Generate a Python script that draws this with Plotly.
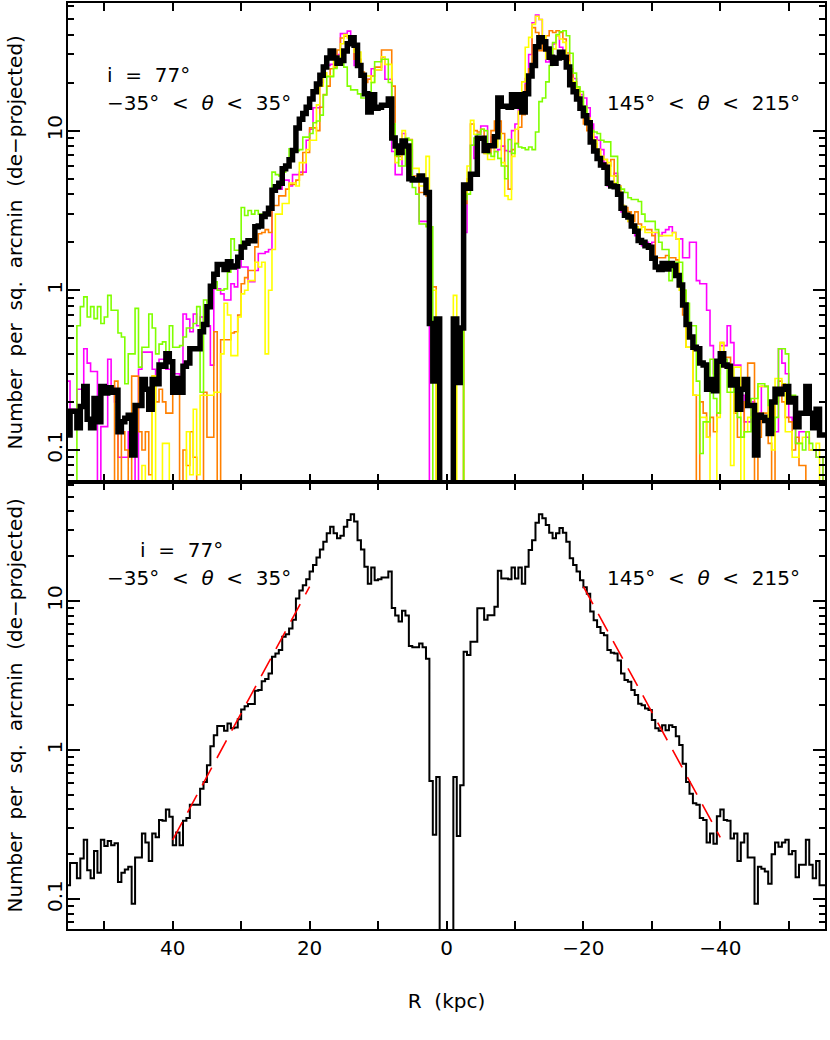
"""Surface density profiles along the major axis, two panels."""

import numpy as np
import plotly.graph_objects as go
from plotly.subplots import make_subplots

# ---- binning -------------------------------------------------------------
R_OUTER = 55.5          # kpc, outer edge of the first bin
BIN_KPC = 0.5           # bin width
EMPTY_CORE = [0.01, 0.01, 0.01, 0.01]   # |R| < 1 kpc: no counts

# ---- black: total profile (R = 55.5 -> 1, then R = -1 -> -55.5) ----------
BLACK_POS = [
    0.124, 0.175, 0.175, 0.138, 0.187, 0.25, 0.156, 0.138, 0.21, 0.15,
    0.25, 0.227, 0.245, 0.23, 0.237, 0.13, 0.15, 0.158, 0.165, 0.093,
    0.19, 0.19, 0.276, 0.24, 0.18, 0.276, 0.26, 0.34, 0.335, 0.40,
    0.357, 0.23, 0.28, 0.23, 0.335, 0.35, 0.43, 0.43, 0.43, 0.55,
    0.61, 0.79, 1.06, 1.26, 1.45, 1.45, 1.35, 1.51, 1.40, 1.42,
    1.61, 1.87, 1.97, 2.04, 2.04, 2.50, 2.53, 2.9, 3.0, 3.27,
    4.23, 4.45, 4.69, 5.77, 6.0, 6.56, 7.5, 10.4, 11.8, 12.8,
    14.0, 15.8, 17.5, 19.6, 22.2, 25.0, 28.5, 31.5, 28.5, 26.4,
    27.5, 31.5, 35.0, 38.2, 34.2, 25.6, 22.2, 17.0, 13.1, 16.8,
    13.8, 14.0, 14.4, 14.4, 15.8, 9.0, 8.0, 7.3, 8.6, 8.0,
    5.0, 4.9, 4.9, 5.2, 4.9, 4.1, 0.62, 0.27, 0.66,
]
BLACK_NEG = [
    0.66, 0.265, 0.58, 4.57, 4.35, 5.33, 5.33, 8.95, 8.95, 7.5,
    8.05, 8.05, 9.15, 16.0, 14.2, 14.2, 14.0, 16.8, 14.2, 16.8,
    13.1, 17.0, 22.0, 25.6, 33.5, 38.2, 36.0, 32.4, 28.8, 26.4,
    28.5, 31.0, 28.8, 25.0, 19.4, 17.5, 15.8, 13.8, 12.4, 11.2,
    8.5, 7.45, 6.7, 6.1, 5.9, 4.69, 4.5, 4.45, 4.0, 3.27,
    2.95, 2.88, 2.53, 2.34, 2.05, 2.0, 1.9, 1.86, 1.59, 1.40,
    1.35, 1.47, 1.36, 1.47, 1.43, 1.24, 1.08, 0.81, 0.61, 0.51,
    0.44, 0.43, 0.35, 0.34, 0.24, 0.276, 0.235, 0.36, 0.40, 0.34,
    0.335, 0.255, 0.276, 0.18, 0.24, 0.276, 0.19, 0.19, 0.093, 0.165,
    0.16, 0.153, 0.127, 0.20, 0.24, 0.225, 0.24, 0.25, 0.20, 0.21,
    0.14, 0.17, 0.17, 0.25, 0.17, 0.138, 0.18, 0.124, 0.124,
]

# ---- coloured sub-samples (top panel) ------------------------------------
MAGENTA_POS = [
    0.27, 0.18, 0.18, 0.24, 0.24, 0.43, 0.35, 0.31, 0.31, 0.04,
    0.14, 0.14, 0.37, 0.25, 0.20, 0.09, 0.09, 0.09, 0.13, 0.13,
    0.06, 0.32, 0.41, 0.41, 0.41, 0.32, 0.28, 0.37, 0.37, 0.32,
    0.32, 0.30, 0.30, 0.28, 0.71, 0.66, 0.55, 0.71, 0.60, 0.68,
    0.60, 0.60, 0.34, 1.02, 1.02, 0.95, 0.87, 0.87, 1.10, 1.05,
    1.58, 1.40, 1.40, 1.13, 1.13, 1.33, 1.70, 1.70, 1.74,
    1.8, 4.3, 4.3, 4.3, 4.9, 4.9, 4.5, 5.3, 5.3, 5.5,
    5.5, 8.7, 10.2, 13.9, 13.9, 20.0, 25.6, 25.6, 26.0, 26.0,
    30.0, 40.5, 40.5, 42.0, 35.0, 25.6, 25.6, 22.2, 21.0, 21.0,
    24.4, 24.0, 24.0, 28.8, 21.0, 21.0, 7.4, 5.3, 5.3, 9.6,
    7.6, 7.6, 4.9, 4.9, 2.7, 2.7, 2.7, 0.04, 0.04, 0.04,
]
MAGENTA_NEG = [
    0.04, 0.04, 0.04, 2.3, 4.5, 8.1, 6.7, 9.5, 10.7, 10.7,
    7.9, 9.1, 7.4, 7.6, 8.0, 7.5, 7.4, 10.0, 11.0, 13.6,
    14.5, 21.2, 30.0, 47.4, 53.0, 49.7, 37.5, 26.9, 29.5, 34.9,
    39.3, 33.3, 29.5, 25.6, 23.3, 21.2, 18.4, 16.8, 16.0, 13.9,
    11.0, 9.1, 8.7, 7.6, 6.3, 4.5, 4.5, 5.4, 4.5, 3.1,
    3.0, 2.7, 2.6, 2.2, 2.1, 1.9,
    2.0, 1.9, 2.0, 2.3, 2.2, 2.3, 2.4, 2.5, 2.3, 2.1,
    2.1, 1.6, 1.6, 2.0, 2.0, 1.15, 1.1, 1.1, 0.75, 0.45,
    0.3, 0.3, 0.45, 0.45, 0.6, 0.47, 0.34, 0.34, 0.22, 0.15,
    0.15, 0.2, 0.17, 0.17, 0.25, 0.25, 0.17, 0.13, 0.13, 0.43,
    0.35, 0.30, 0.16, 0.15, 0.11, 0.13, 0.13, 0.12, 0.1, 0.1,
    0.09, 0.09, 0.05,
]
ORANGE_POS = [
    0.04, 0.04, 0.04, 0.04, 0.04, 0.04, 0.04, 0.04, 0.04, 0.04,
    0.04, 0.04, 0.04, 0.04, 0.27, 0.04, 0.13, 0.10, 0.06, 0.29,
    0.29, 0.13, 0.10, 0.13, 0.07, 0.29, 0.20, 0.24, 0.20, 0.17,
    0.17, 0.24, 0.24, 0.04, 0.10, 0.08, 0.13, 0.09, 0.04, 0.04,
    0.23, 0.12, 0.12, 0.55, 0.04, 0.49, 0.49, 0.49, 0.54, 0.55,
    0.70, 1.10, 1.20, 1.33, 1.33, 1.87, 2.26, 2.30, 2.40,
    2.3, 3.4, 3.4, 3.9, 3.9, 4.3, 4.6, 4.6, 4.9, 5.3,
    7.3, 7.3, 10.4, 10.4, 10.0, 14.0, 16.8, 19.0, 24.4, 25.0,
    32.0, 38.0, 39.0, 39.0, 39.0, 28.0, 28.0, 23.3, 20.0, 21.0,
    22.0, 25.0, 25.0, 32.0, 32.0, 32.0, 19.0, 6.9, 6.9, 7.2,
    8.8, 8.8, 5.2, 5.2, 4.1, 4.1, 3.9, 1.05, 1.05, 0.04,
]
ORANGE_NEG = [
    0.04, 0.04, 0.04, 3.5, 5.0, 11.0, 10.0, 9.8, 10.2, 7.2,
    7.2, 10.0, 11.5, 11.5, 9.6, 6.0, 4.3, 7.6, 8.3, 10.5,
    12.6, 19.3, 24.4, 44.2, 41.2, 31.7, 35.7, 39.3, 42.2, 41.2,
    42.2, 41.2, 37.5, 30.6, 24.4, 20.2, 17.6, 14.2, 11.0, 10.0,
    9.1, 8.3, 7.4, 6.6, 6.6, 6.0, 6.6, 5.2, 3.9, 3.4,
    3.3, 3.1, 2.7, 3.1, 2.6, 2.5,
    2.4, 2.4, 2.2, 1.6, 1.6, 1.6, 1.65, 1.6, 1.6, 1.55,
    1.05, 0.7, 0.44, 0.44, 0.22, 0.06, 0.2, 0.17, 0.12, 0.16,
    0.13, 0.17, 0.47, 0.38, 0.38, 0.27, 0.17, 0.12, 0.12, 0.2,
    0.35, 0.35, 0.05, 0.12, 0.17, 0.17, 0.11, 0.05, 0.2, 0.27,
    0.2, 0.16, 0.15, 0.1, 0.12, 0.08, 0.08, 0.04, 0.04, 0.04,
    0.04, 0.04, 0.04,
]
YELLOW_POS = [
    0.04, 0.04, 0.04, 0.04, 0.04, 0.04, 0.04, 0.04, 0.04, 0.04,
    0.04, 0.04, 0.04, 0.04, 0.04, 0.04, 0.04, 0.04, 0.04, 0.04,
    0.04, 0.04, 0.08, 0.04, 0.04, 0.29, 0.04, 0.04, 0.11, 0.11,
    0.04, 0.04, 0.04, 0.04, 0.04, 0.13, 0.07, 0.18, 0.07, 0.22,
    0.22, 0.22, 0.22, 0.23, 0.23, 0.40, 0.83, 0.70, 0.39, 0.39,
    0.68, 0.95, 1.00, 1.15, 1.15, 1.50, 1.40, 1.50, 0.40,
    1.0, 1.8, 3.0, 3.0, 3.5, 3.5, 4.7, 4.7, 4.5, 6.3,
    6.3, 7.6, 8.7, 8.7, 14.5, 19.0, 23.0, 22.0, 22.0, 28.0,
    28.0, 35.0, 40.0, 38.0, 38.0, 31.0, 31.0, 22.0, 22.0, 22.0,
    20.0, 24.0, 24.0, 29.0, 26.0, 26.0, 11.0, 6.3, 6.6, 10.0,
    8.7, 8.7, 5.8, 5.8, 4.5, 4.5, 6.9, 1.0, 1.0, 0.04,
]
YELLOW_NEG = [
    0.93, 0.04, 0.04, 4.0, 6.0, 11.6, 9.5, 9.0, 9.1, 7.2,
    6.6, 6.6, 7.9, 9.6, 6.3, 3.9, 3.7, 6.9, 10.2, 13.2,
    20.2, 33.3, 38.4, 46.3, 52.0, 49.7, 39.3, 28.2, 28.8, 32.5,
    39.3, 37.5, 35.7, 26.9, 21.2, 20.2, 18.4, 15.2, 13.9, 12.0,
    10.0, 8.7, 7.6, 6.9, 6.6, 6.3, 5.2, 4.7, 4.5, 3.4,
    3.0, 2.7, 2.6, 2.5, 2.4, 2.5,
    2.3, 2.3, 2.3, 2.3, 2.2, 2.2, 2.2, 2.2, 2.3, 2.1,
    1.0, 1.0, 0.44, 0.44, 0.22, 0.22, 0.16, 0.16, 0.12, 0.04,
    0.04, 0.16, 0.47, 0.33, 0.33, 0.08, 0.33, 0.33, 0.06, 0.13,
    0.16, 0.16, 0.16, 0.25, 0.25, 0.25, 0.13, 0.1, 0.28, 0.28,
    0.26, 0.13, 0.13, 0.09, 0.09, 0.11, 0.12, 0.13, 0.1, 0.1,
    0.11, 0.04, 0.04,
]
GREEN_POS = [
    0.05, 0.05, 0.05, 0.60, 0.79, 0.91, 0.68, 0.79, 0.665, 0.79,
    0.62, 0.68, 0.93, 0.75, 0.75, 0.54, 0.51, 0.26, 0.40, 0.40,
    0.77, 0.33, 0.44, 0.44, 0.71, 0.58, 0.40, 0.46, 0.475, 0.40,
    0.60, 0.44, 0.44, 0.45, 0.51, 0.58, 0.58, 0.62, 0.79, 0.23,
    0.87, 0.77, 1.07, 1.13, 1.00, 1.00, 1.02, 1.30, 2.10, 1.78,
    1.78, 3.30, 2.94, 3.16, 3.00, 3.16, 3.00, 3.00, 3.00,
    3.2, 5.5, 5.3, 5.2, 5.5, 6.0, 7.7, 7.7, 7.5, 7.6,
    9.1, 9.1, 9.6, 11.2, 11.5, 12.5, 16.7, 21.8, 21.8, 24.5,
    26.4, 28.3, 25.0, 19.0, 18.0, 18.0, 17.0, 16.0, 16.0, 14.6,
    20.0, 27.0, 27.0, 28.0, 28.0, 20.0, 11.0, 7.0, 6.0, 6.0,
    9.0, 8.7, 4.4, 4.0, 2.6, 2.6, 2.5, 2.5, 0.04, 0.04,
]
GREEN_NEG = [
    0.04, 0.04, 0.04, 3.7, 4.0, 8.1, 9.0, 9.5, 10.2, 10.0,
    7.2, 6.9, 7.4, 6.7, 6.0, 5.0, 8.8, 7.2, 8.3, 7.9,
    7.8, 7.6, 7.9, 7.6, 9.8, 15.2, 16.0, 20.2, 25.6, 35.6,
    40.0, 41.6, 42.2, 39.3, 30.5, 22.9, 18.8, 17.6, 14.2, 11.2,
    10.0, 9.8, 9.6, 8.7, 8.5, 8.5, 6.9, 6.9, 4.4, 4.3,
    4.1, 3.8, 3.7, 3.7, 3.6, 3.0,
    2.7, 2.7, 2.7, 2.4, 2.0, 1.8, 1.8, 1.15, 1.4, 1.5,
    1.5, 1.0, 0.83, 0.6, 0.6, 0.27, 0.095, 0.15, 0.15, 0.37,
    0.21, 0.17, 0.37, 0.37, 0.23, 0.23, 0.25, 0.16, 0.12, 0.13,
    0.13, 0.21, 0.21, 0.26, 0.26, 0.25, 0.19, 0.13, 0.16, 0.43,
    0.43, 0.4, 0.22, 0.22, 0.11, 0.11, 0.1, 0.13, 0.11, 0.1,
    0.09, 0.09, 0.04,
]

# ---- exponential disc fits (bottom panel), end points ---------------------
FIT_POS_R = [40.0, 20.0]
FIT_POS_V = [0.25, 12.5]
FIT_NEG_R = [-20.0, -40.0]
FIT_NEG_V = [12.5, 0.26]

# ---- tick labels -----------------------------------------------------------
X_TICKS = [40, 20, 0, -20, -40]
X_TICKTEXT = ["40", "20", "0", "\u221220", "\u221240"]
X_MINOR = [50, 30, 10, -10, -30, -50]
Y_TICKS = [0.1, 1, 10]
Y_TICKTEXT = ["0.1", "1", "10"]
Y_MINOR = [0.07, 0.08, 0.09, 0.2, 0.3, 0.4, 0.5, 0.6, 0.7, 0.8, 0.9,
           2, 3, 4, 5, 6, 7, 8, 9, 20, 30, 40, 50, 60]

FONT = "DejaVu Sans"
FS = 20
L_MARGIN, PLOT_W = 68, 757


def step_xy(pos, neg):
    vals = list(pos) + EMPTY_CORE + list(neg)
    edges = R_OUTER - BIN_KPC * np.arange(len(vals) + 1)
    return edges, vals + [vals[-1]]


fig = make_subplots(rows=2, cols=1, vertical_spacing=0, row_heights=[479, 447])

# top panel: sub-samples underneath the thick total profile
for pos, neg, colour in [
    (MAGENTA_POS, MAGENTA_NEG, "#ff00ff"),
    (ORANGE_POS, ORANGE_NEG, "#ff8000"),
    (YELLOW_POS, YELLOW_NEG, "#ffff00"),
    (GREEN_POS, GREEN_NEG, "#80ff00"),
]:
    x, y = step_xy(pos, neg)
    fig.add_trace(go.Scatter(x=x, y=y, mode="lines", line_shape="hv",
                             line=dict(color=colour, width=1.6)), row=1, col=1)

x, y = step_xy(BLACK_POS, BLACK_NEG)
fig.add_trace(go.Scatter(x=x, y=y, mode="lines", line_shape="hv",
                         line=dict(color="black", width=5.5)), row=1, col=1)

# bottom panel: total profile with the two fits
fig.add_trace(go.Scatter(x=x, y=y, mode="lines", line_shape="hv",
                         line=dict(color="black", width=2)), row=2, col=1)
for fr, fv in [(FIT_POS_R, FIT_POS_V), (FIT_NEG_R, FIT_NEG_V)]:
    fig.add_trace(go.Scatter(x=fr, y=fv, mode="lines",
                             line=dict(color="#ff0000", width=1.6, dash="20px,11px")),
                  row=2, col=1)

xaxis_style = dict(
    range=[55.3, -55.3], showline=True, linecolor="black", linewidth=2,
    mirror="ticks", ticks="inside", ticklen=8, tickwidth=1.5, tickcolor="black",
    tickvals=X_TICKS, ticktext=X_TICKTEXT, showgrid=False, zeroline=False,
    automargin=False,
    minor=dict(tickvals=X_MINOR, ticks="inside", ticklen=8, tickwidth=1.5,
               tickcolor="black", showgrid=False),
    tickfont=dict(family=FONT, size=FS, color="black"),
)
yaxis_style = dict(
    type="log", range=[np.log10(0.063), np.log10(63)], showline=True,
    linecolor="black", linewidth=2, mirror="ticks", ticks="inside", ticklen=12,
    tickwidth=1.5, tickcolor="black", tickvals=Y_TICKS, ticktext=Y_TICKTEXT,
    tickangle=-90, ticklabelstandoff=-4, showgrid=False, zeroline=False,
    automargin=False,
    minor=dict(tickvals=Y_MINOR, ticks="inside", ticklen=6, tickwidth=1.5,
               tickcolor="black", showgrid=False),
    tickfont=dict(family=FONT, size=FS, color="black"),
)
fig.update_xaxes(**xaxis_style)
fig.update_xaxes(showticklabels=False, row=1, col=1)
fig.update_xaxes(title=dict(text="R\u00a0\u00a0(kpc)", font=dict(family=FONT, size=FS, color="black"),
                            standoff=35), row=2, col=1)
fig.update_yaxes(**yaxis_style)

sp = "\u00a0\u00a0"
ytitle = sp.join(["Number", "per", "sq.", "arcmin", "(de\u2212projected)"])
labels = [
    ("x domain", "y domain", 0.049, 0.85, f"i{sp}={sp}77\u00b0"),
    ("x domain", "y domain", 0.049, 0.791, f"\u221235\u00b0{sp}<{sp}<i>\u03b8</i>{sp}<{sp}35\u00b0"),
    ("x domain", "y domain", 0.709, 0.791, f"145\u00b0{sp}<{sp}<i>\u03b8</i>{sp}<{sp}215\u00b0"),
    ("x2 domain", "y2 domain", 0.093, 0.848, f"i{sp}={sp}77\u00b0"),
    ("x2 domain", "y2 domain", 0.049, 0.785, f"\u221235\u00b0{sp}<{sp}<i>\u03b8</i>{sp}<{sp}35\u00b0"),
    ("x2 domain", "y2 domain", 0.709, 0.785, f"145\u00b0{sp}<{sp}<i>\u03b8</i>{sp}<{sp}215\u00b0"),
]
for xr, yr, ax, ay, txt in labels:
    fig.add_annotation(xref=xr, yref=yr, x=ax, y=ay, text=txt, showarrow=False,
                       xanchor="left", yanchor="middle",
                       font=dict(family=FONT, size=FS, color="black"))

# y-axis titles, one per panel, centred on the panel
for yr in ["y domain", "y2 domain"]:
    fig.add_annotation(xref="paper", yref=yr, x=(14 - L_MARGIN) / PLOT_W, y=0.5,
                       text=ytitle, textangle=-90, showarrow=False,
                       xanchor="center", yanchor="middle",
                       font=dict(family=FONT, size=FS, color="black"))

fig.update_layout(
    width=830, height=1040, showlegend=False,
    margin=dict(l=L_MARGIN, r=5, t=3, b=111),
    paper_bgcolor="white", plot_bgcolor="white",
    font=dict(family=FONT, size=FS, color="black"),
)

# the page body has a default 8px margin; drop it so the figure sits at 0,0
fig.write_html("out.html", config={"displayModeBar": False},
               post_script="document.body.style.margin = '0px';")
